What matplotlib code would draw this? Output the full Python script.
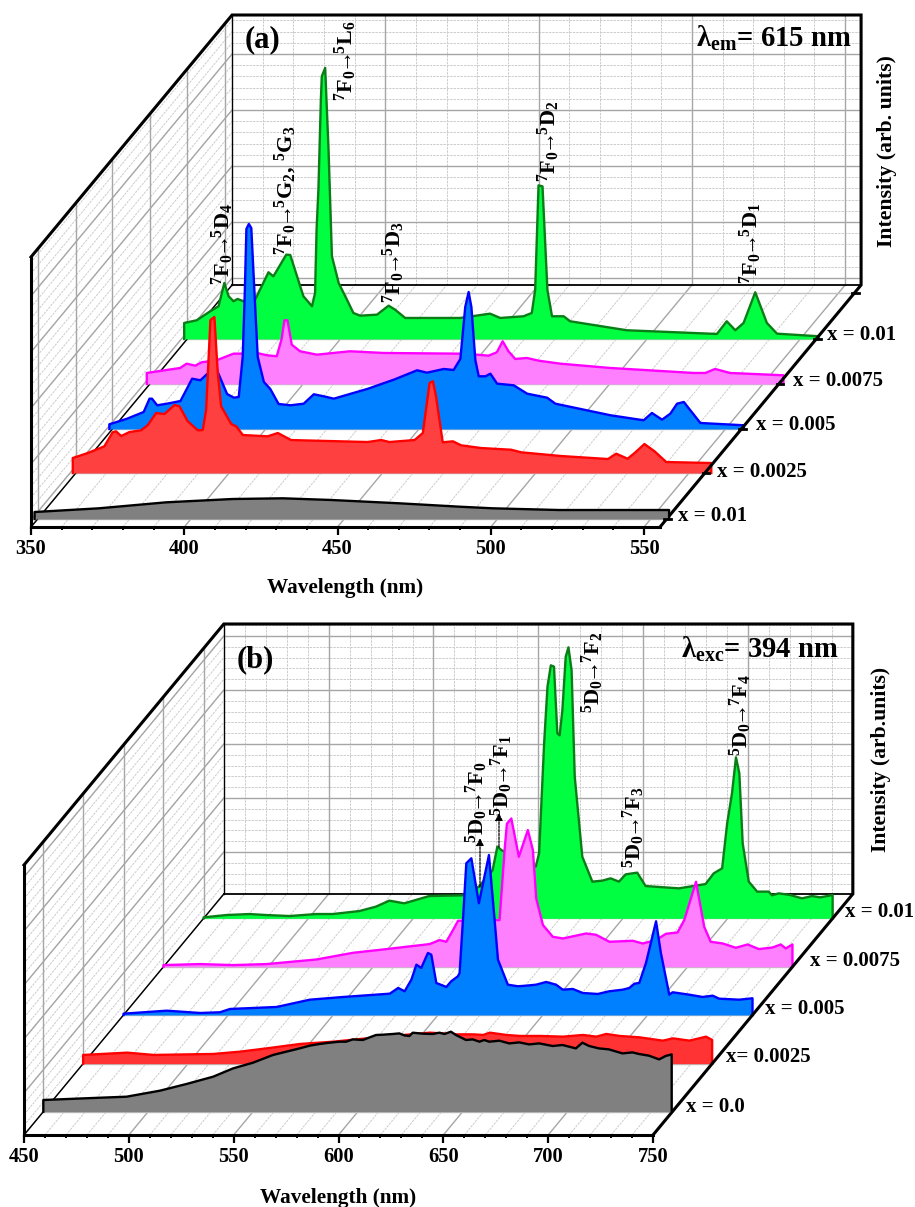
import numpy as np
import matplotlib
matplotlib.use('Agg')
import matplotlib.pyplot as plt

plt.rcParams['font.family'] = ['Liberation Serif', 'DejaVu Serif']
plt.rcParams['font.weight'] = 'bold'
plt.rcParams['mathtext.fontset'] = 'custom'
plt.rcParams['mathtext.rm'] = 'Liberation Serif:bold'
plt.rcParams['mathtext.bf'] = 'Liberation Serif:bold'
plt.rcParams['mathtext.it'] = 'Liberation Serif:bold'

W, H = 915, 1207

# panel (a): excitation spectra
a_wl_black = [350, 371, 393, 414.6, 431, 447, 469, 488.7, 499.4, 521, 557]
a_i_black = [7, 10.7, 16.7, 20, 20.7, 19, 15.7, 12.3, 10.7, 9, 9]

a_wl_red = [350, 354.9, 360.3, 363, 364.1, 365.8, 368.5, 372.3, 374.5, 377.2, 379.9, 383.2, 384.8,
            387.5, 390.8, 392.4, 393.5, 394.9, 396.2, 397.3, 398.4, 401.7, 403.3, 405.5, 413.6,
            416.9, 421.2, 424.5, 446.2, 450.6, 453.3, 461.5, 464.2, 466.4, 467.5, 468.5, 470.7,
            474, 476.7, 483.2, 493, 496.3, 509.3, 524.6, 527.3, 531, 533.3, 536.5, 539.8, 543.6, 558.3]
a_i_red = [15, 20, 26.7, 40.7, 41.7, 37, 41, 42.7, 48, 60, 59, 68, 66.7,
           51.7, 42.7, 43, 63, 153, 156, 100, 66.7, 49, 46.7, 38, 36.7,
           40, 33, 32.7, 31, 33, 31, 33, 40, 90, 91.7, 76.7, 30.7,
           31.7, 27.7, 25, 23.3, 20.7, 17, 14, 19.3, 14.3, 20, 29, 21.7, 11, 10]

a_wl_blue = [350, 355.8, 361.2, 363.1, 363.9, 365.6, 368.8, 373.2, 377, 379.7, 381.9, 385.1, 388.4,
             390.6, 392.2, 393.5, 394.2, 394.7, 395.5, 396.3, 397.3, 398.4, 400.4, 402.5, 405.2, 409.1,
             413.4, 416.7, 419.9, 423.2, 434.1, 442.8, 450.4, 453.6, 459.1, 462.3, 464.5, 466.1,
             467.2, 468.1, 469.4, 470.5, 472.7, 474.3, 476.5, 481.9, 486.3, 492.8, 495.5, 513.5,
             524.3, 527, 530.3, 533, 535.2, 537.4, 542.8, 557]
a_i_blue = [4.7, 10.3, 17, 30.3, 30.3, 23.7, 25.3, 28, 50.3, 48.7, 55, 58.7, 35,
            31.3, 32, 72, 139, 200, 205, 201, 139, 72, 47, 40, 25, 23.7,
            25.3, 34.7, 32.7, 30.3, 40, 49.3, 58.7, 56.3, 60, 59, 70, 122,
            137, 122, 68.7, 52.7, 52.7, 55.3, 45.3, 43.7, 35.3, 31.3, 25.3, 13.7,
            8.7, 16, 9.3, 15.3, 25.3, 27, 6, 3.7]

a_wl_pink = [350, 360.9, 363, 365.8, 367.9, 372.8, 378.3, 380.5, 385.9, 389.2, 392.4, 394, 394.9,
             395.9, 397.3, 400, 405.5, 416.3, 427.2, 452.2, 457.7, 461.5, 464.2, 466.1, 468,
             470.2, 474, 477.8, 484.9, 501.2, 528.4, 532.2, 535.4, 540.3, 557.7]
a_i_pink = [11, 16, 20.3, 18.3, 21.7, 23.7, 30.3, 30.3, 31, 28.7, 27.7, 45, 63.7,
            63.7, 39.3, 32.7, 29.3, 32.7, 31, 30.3, 29.3, 28.3, 31.7, 42.7, 32.7,
            25, 26, 23.3, 20.3, 16, 11, 11, 15, 11, 8.7]

a_wl_green = [350, 354.1, 358.5, 361.2, 362.3, 363.1, 364.5, 366.1, 367.4, 369.4, 372.6, 373.7, 377.5,
              379.1, 383.3, 384.6, 388.9, 391.7, 392.7, 393.2, 393.8, 394.6, 394.9, 396, 397.1, 398.2, 400.4,
              403.1, 405.2, 407.4, 412.9, 416.7, 418.8, 422.1, 440, 449.8, 453.1, 460.7, 463.4,
              464.5, 465.6, 466.9, 468.5, 470, 473.8, 475.9, 494.4, 523.8, 527, 529.8, 532.5,
              536.3, 540.1, 543.4, 557]
a_i_green = [16, 18.7, 27.7, 32.7, 46, 56, 42.7, 37.7, 40, 37.7, 36, 42.7, 66.7,
             62.6, 84.3, 84, 42.7, 32.7, 46, 110, 150, 240, 262.7, 271, 189, 82.7, 56,
             39.3, 26, 23.3, 24.3, 33.3, 29.3, 21, 21, 25.3, 21, 22.7, 26,
             49, 153.6, 152.6, 49, 22.7, 22.7, 17.7, 8.7, 5, 17.7, 8.7, 16,
             46.7, 16, 5.3, 2.7]

# panel (b): emission spectra
b_wl_black = [450, 469, 489.7, 505.6, 518.3, 531, 540.5, 550, 559.5, 572.2, 577, 581.7, 586.5, 591.3,
              594.4, 597.6, 602.4, 605.6, 608.7, 611.9, 616.7, 619.8, 622.2, 624.6, 626.2, 631, 635.7,
              638.9, 641.3, 644.4, 646.8, 651.6, 654.8, 658, 660.3, 662.7, 667.5, 672.2, 677, 681.7,
              686.5, 692.9, 697.6, 704, 707.1, 710.3, 715, 719.8, 726.2, 731, 734.1, 738.9, 743.7,
              746.8, 749.7]
b_i_black = [11.7, 13.3, 15, 21, 27.7, 35, 43.3, 49, 56.7, 63.3, 66, 67.7, 69, 70,
             70, 72.3, 71.7, 74.3, 76.7, 77, 77.7, 78.3, 76.3, 75.7, 79, 78, 77.7,
             79, 77.7, 80, 76.7, 71.7, 72.3, 70, 71.7, 70, 71, 68.3, 69.3, 67.3,
             68.3, 65.7, 66.7, 63.3, 69, 65.7, 63.3, 62.3, 58.3, 59.3, 57.7, 56, 52.3,
             55.7, 57.3]

b_wl_red = [450, 471, 483.7, 512.2, 524.9, 537.6, 553.5, 569.4, 585.2, 615.4, 628, 636, 640.8, 644, 651.9,
            658.3, 667.8, 678.9, 688.4, 694.8, 699.5, 705.9, 715.4, 726.5, 731.3, 739.2, 747.1, 750]
b_i_red = [8.7, 11, 8.7, 9.7, 12, 15.3, 19.7, 22, 25.3, 31, 29.3, 29.3, 28.7, 31, 28.7,
           27.7, 27.7, 27, 28.7, 27, 29.7, 27.7, 26.3, 23, 25.3, 23, 27, 23.7]

b_wl_blue = [450, 470.6, 486.5, 496, 500.8, 523, 538.9, 554.8, 577, 581, 584.1, 587.3, 589.7, 592,
             595.2, 596.8, 599.2, 604, 606.3, 609.5, 610.3, 611.9, 613.5, 615.9, 619.5, 624.3, 627,
             628.6, 633.3, 638.1, 642, 646.8, 651.6, 656.3, 659.5, 664.3, 669, 676.2, 681.7, 688.1,
             691.3, 693.7, 696, 699.2, 704, 706.3, 710.3, 711.9, 719.8, 726.2, 731, 734.1, 743.7, 750]
b_i_blue = [1.3, 4.3, 2, 2.7, 6, 8, 15.3, 18, 21.3, 27, 23.7, 35.3, 50.3, 47,
            62, 60.3, 32, 28, 33.7, 38.7, 42, 95, 151.7, 156.7, 111.7, 160, 95,
            55.3, 30.3, 28.7, 29.3, 30.3, 33, 30.3, 25.3, 26, 22, 21, 23.7, 25.3,
            27, 31.3, 32, 52, 93.7, 62, 20.3, 22.7, 20.3, 18, 19.3, 16.3, 15.3, 16.7]

b_wl_pink = [450, 467.5, 483.3, 499.2, 523, 540.5, 554.8, 577, 581.7, 584.9, 588.1, 590.5, 592,
             610.3, 612.7, 613.8, 615.9, 619.5, 623.8, 626.2, 627.8, 631, 635.7, 640.5, 651.6,
             656.3, 662.7, 673.8, 678.6, 684.9, 689.7, 695.2, 698.4, 704, 707.9, 711, 716.7, 723,
             728.6, 734, 740.5, 744.4, 746.8, 750]
b_i_pink = [1.7, 2.7, 1.7, 2.7, 7.3, 14, 17.3, 22.7, 26.7, 25, 36.7, 46, 46,
            46.7, 116.7, 143, 148.3, 110, 136.7, 116.7, 68, 41.7, 30, 28.3, 33.3,
            32, 25, 26, 23.3, 26.7, 33, 34.3, 46.7, 85, 40, 25, 23.3, 19,
            22.3, 17.7, 19.3, 22.3, 18.3, 22.3]

b_wl_green = [450, 460.8, 471.9, 479.8, 491, 503.7, 511.6, 524.3, 532.2, 538.6, 545.7, 557.6, 573.5,
              581.3, 587.8, 590.1, 592.2, 608.4, 610, 612.4, 614, 615.6, 617.1, 618.7, 619.8, 621.1,
              622.7, 624, 625.5, 627, 630.6, 635.4, 640.2, 644.1, 648.1, 651.3, 656.8, 660.8, 676.7,
              689.4, 693.3, 697.3, 699.7, 702, 703.9, 705.5, 707.1, 710, 714, 719.5, 721.1, 724.3,
              729.8, 735.4, 740.2, 744.1, 750]
b_i_green = [1, 3.3, 4.3, 3.3, 2.3, 4.3, 4.3, 7.3, 11.7, 17.7, 15, 22.3, 23,
             31.7, 48, 71.7, 68, 51.7, 65, 175, 231.7, 253, 251.7, 185, 183, 208,
             261.7, 271, 248, 141.7, 61.7, 36.7, 37.7, 40, 36.7, 44, 45.7, 32.3, 30,
             34.3, 45, 50, 95, 125, 161, 145, 75, 36.7, 26.7, 26.7, 23, 25,
             23.3, 20, 22.3, 21, 23.3]

# back to front
fill_colors = ['#00FF40', '#FF80FF', '#0080FF', '#FF4040', '#808080']
line_colors_a = ['#0B7D17', '#FF00FF', '#0000FF', '#FF0000', '#000000']
line_colors_b = ['#0B7D17', '#FF00FF', '#0000FF', '#FF0000', '#000000']
fill_colors_b = ['#00FF40', '#FF80FF', '#0080FF', '#FF3333', '#808080']

LABEL = 15.3


def place(left, right, top, bottom):
    return fig.add_axes([left / W, 1 - bottom / H, (right - left) / W, (bottom - top) / H])


def txt(px, py, s, size, rot=0, ha='center'):
    fig.text(px / W, 1 - py / H, s, fontsize=size, rotation=rot, ha=ha, va='center',
             fontweight='bold', zorder=10)


def trans(a, b, c, d):
    return r'$\mathbf{^{%s}%s_{0}\!\!{\rightarrow}\!\!^{%s}%s}$' % (a, b, c, d)


def draw_panel(ax, xlim, height, dx, dy, xmaj, xmin, ymaj, ymin, depths, series, fills, lines, nudge, ticks):
    x0, x1 = xlim
    ax.set_xlim(x0, x1)
    ax.set_ylim(0, height)
    ax.patch.set_alpha(0)
    ax.set_yticks([])
    for s in ['top', 'right']:
        ax.spines[s].set_visible(False)
    for s in ['left', 'bottom']:
        ax.spines[s].set_linewidth(2.2)
        ax.spines[s].set_zorder(6)
    ax.set_xticks(xmaj)
    ax.set_xticks(xmin, minor=True)
    ax.tick_params(axis='x', which='major', length=6, width=1.6, labelsize=14.8, pad=3)
    ax.tick_params(axis='x', which='minor', length=2.5, width=1.4)

    minor_style = dict(color='#cccccc', lw=0.7, ls=(0, (2.5, 1)), zorder=1, clip_on=False)
    major_style = dict(color='#a6a6a6', lw=1.0, zorder=1.2, clip_on=False)

    # wavelength grid on floor and back wall
    for val, style in [(v, minor_style) for v in xmin] + [(v, major_style) for v in xmaj]:
        ax.plot([val, val + dx], [0, dy], **style)
        ax.plot([val + dx, val + dx], [dy, dy + height], **style)
    # intensity grid on back wall and left wall
    for val, style in [(v, minor_style) for v in ymin] + [(v, major_style) for v in ymaj]:
        ax.plot([x0 + dx, x1 + dx], [dy + val, dy + val], **style)
        ax.plot([x0, x0 + dx], [val, dy + val], **style)
    # depth lines
    for d in depths:
        ax.plot([x0 + d * dx, x0 + d * dx], [d * dy, d * dy + height], **major_style)
        ax.plot([x0 + d * dx, x1 + d * dx], [d * dy, d * dy], color='#c0c0c0', lw=1.0, zorder=1.2, clip_on=False)

    # frame of the box
    ax.plot([x0, x0 + dx], [0, dy], color='k', lw=1.0, zorder=1.5, clip_on=False)
    ax.plot([x0 + dx, x1 + dx], [dy, dy], color='k', lw=1.3, zorder=1.5, clip_on=False)
    ax.plot([x0 + dx, x0 + dx], [dy, dy + height], color='k', lw=0.9, zorder=1.5, clip_on=False)
    ax.plot([x0, x0 + dx, x1 + dx, x1 + dx, x1], [height, dy + height, dy + height, dy, 0],
            color='k', lw=2.2, zorder=6, clip_on=False, solid_joinstyle='miter')

    # spectra, back one first
    n = len(series)
    for i, (wl, inten) in enumerate(series):
        d = depths[n - 1 - i]
        wl = np.array(wl, dtype=float) + d * dx + nudge
        base = d * dy
        inten = np.array(inten, dtype=float)
        ax.fill_between(wl, base, base + inten, color=fills[i], lw=0, zorder=2 + i, clip_on=False)
        ax.plot(np.r_[wl[0], wl, wl[-1]], np.r_[base, base + inten, base], color=lines[i], lw=1.7,
                zorder=2.5 + i, clip_on=False, solid_joinstyle='round')

    # short ticks on the right floor edge
    for d in ticks:
        ax.plot([x1 + d * dx - 0.7, x1 + d * dx + 1.5], [d * dy, d * dy], color='k', lw=2,
                zorder=6, clip_on=False)


fig = plt.figure(figsize=(W / 100, H / 100), dpi=100)

# (a)
ax1 = place(31, 660, 257, 527)
depths_a = [0.033, 0.223, 0.405, 0.591, 0.777, 0.967]
series_a = [(a_wl_green, a_i_green), (a_wl_pink, a_i_pink), (a_wl_blue, a_i_blue),
            (a_wl_red, a_i_red), (a_wl_black, a_i_black)]
draw_panel(ax1, (350, 555.2), 270, 65.6, 242,
           np.arange(350, 551, 50), [v for v in np.arange(350, 556, 10) if v % 50 != 0],
           np.arange(7, 270, 56), [v for v in np.arange(7 - 0, 270, 11.2)],
           depths_a, series_a, fill_colors, line_colors_a, -1.0, depths_a)

# (b)
ax2 = place(24, 653, 865, 1135)
depths_b = [0.0967, 0.296, 0.498, 0.698, 0.899]
series_b = [(b_wl_green, b_i_green), (b_wl_pink, b_i_pink), (b_wl_blue, b_i_blue),
            (b_wl_red, b_i_red), (b_wl_black, b_i_black)]
draw_panel(ax2, (450, 750), 270, 95.3, 241,
           np.arange(450, 751, 50), [v for v in np.arange(450, 751, 10) if v % 50 != 0],
           np.arange(42, 270, 54), [v for v in np.arange(9.6, 270, 10.8)],
           depths_b, series_b, fill_colors_b, line_colors_b, 0.0, [])

# text of panel a
txt(345, 588, 'Wavelength (nm)', LABEL)
txt(262, 40, '(a)', 22)
txt(774, 38, r'$\mathbf{\lambda_{em}}$= 615 nm', 20.6)
txt(887, 151, 'Intensity (arb. units)', 15.7, 90)
txt(346, 61, trans('7', 'F', '5', 'L_{6}'), 16, 90)
txt(286, 190, r'$\mathbf{^{7}F_{0}\!\!{\rightarrow}\!\!^{5}G_{2},\,^{5}G_{3}}$', 16, 90)
txt(223, 244, trans('7', 'F', '5', 'D_{4}'), 16, 90)
txt(394, 262, trans('7', 'F', '5', 'D_{3}'), 16, 90)
txt(549, 141, trans('7', 'F', '5', 'D_{2}'), 16, 90)
txt(751, 243, trans('7', 'F', '5', 'D_{1}'), 16, 90)
for px, py, s in [(678, 516, 'x = 0.01'), (717, 472, 'x = 0.0025'), (756, 425, 'x = 0.005'),
                  (793, 381, 'x = 0.0075'), (827, 335, 'x = 0.01')]:
    txt(px, py, s, 15, ha='left')

# text of panel b
txt(338, 1198, 'Wavelength (nm)', LABEL)
txt(255, 660, '(b)', 22)
txt(760, 649, r'$\mathbf{\lambda_{exc}}$= 394 nm', 20.6)
txt(881, 759, 'Intensity (arb.units)', 15.6, 90)
txt(593, 672, trans('5', 'D', '7', 'F_{2}'), 16, 90)
txt(741, 715, trans('5', 'D', '7', 'F_{4}'), 16, 90)
txt(634, 827, trans('5', 'D', '7', 'F_{3}'), 16, 90)
txt(477, 802, trans('5', 'D', '7', 'F_{0}'), 16, 90)
txt(502, 775, trans('5', 'D', '7', 'F_{1}'), 16, 90)
for px, py, s in [(845, 912, 'x = 0.01'), (810, 961, 'x = 0.0075'), (765, 1009, 'x = 0.005'),
                  (726, 1057, 'x= 0.0025'), (686, 1107, 'x = 0.0')]:
    txt(px, py, s, 15, ha='left')

# small dashed arrows to the 5D0-7F0 and 5D0-7F1 peaks
for px, y_from, y_to in [(480, 887, 838), (499, 847, 813)]:
    ax2.annotate('', xy=(px, H - y_to), xytext=(px, H - y_from), xycoords='figure pixels',
                 textcoords='figure pixels', zorder=12, annotation_clip=False,
                 arrowprops=dict(arrowstyle='-|>', color='k', lw=0.9, ls=(0, (2, 1)),
                                 mutation_scale=11, shrinkA=0, shrinkB=0))

fig.savefig('out.png', dpi=100)
